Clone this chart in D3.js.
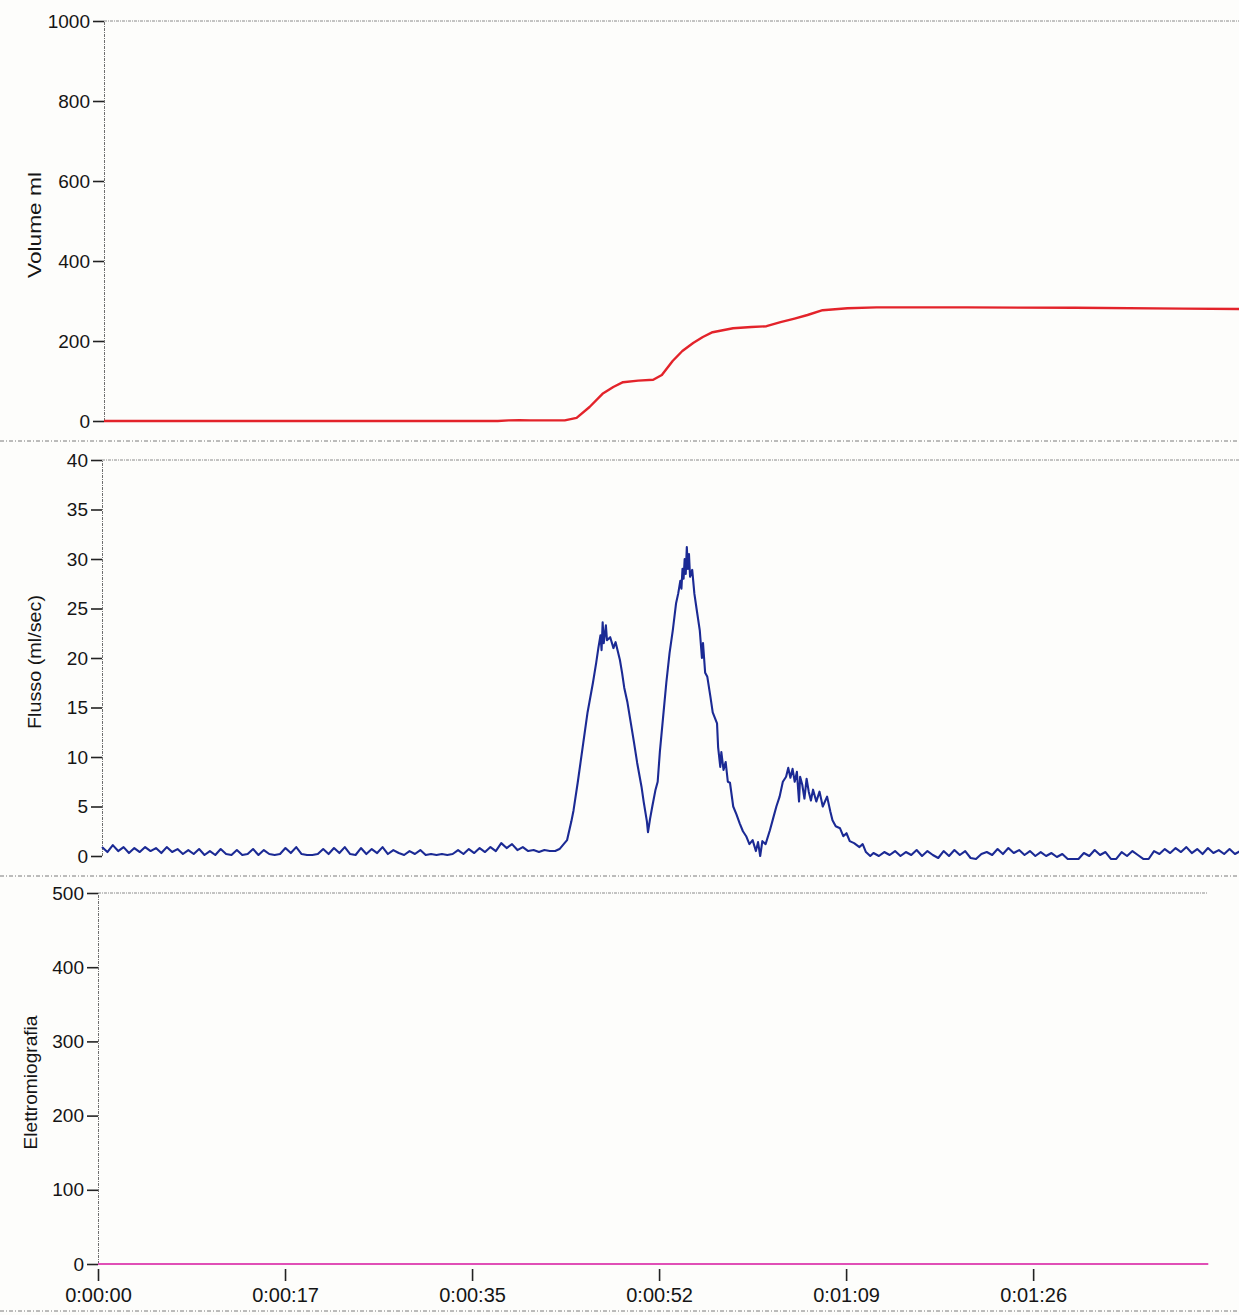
<!DOCTYPE html>
<html>
<head>
<meta charset="utf-8">
<script src="https://cdn.jsdelivr.net/npm/d3@7"></script>
<style>
  html, body { margin: 0; padding: 0; background: #fdfdfb; }
  svg { display: block; font-family: "Liberation Sans", Arial, sans-serif; }
</style>
</head>
<body>
<script>
// ---- data (seconds, value) ----

const volumePoints = [
  [0, 0], [10, 0], [20, 0], [30, 0], [36.5, 0], [37.5, 1.5], [38.5, 2], [39.5, 1.5],
  [41, 1.5], [42.7, 1.5], [43.8, 8], [45, 35], [46.2, 68], [47.2, 85], [48.1, 97],
  [49.5, 101], [50.9, 103], [51.7, 115], [52.7, 150], [53.6, 175], [54.6, 195],
  [55.5, 210], [56.4, 222], [58.3, 232], [60, 235], [61.4, 237], [62.7, 247],
  [64, 256], [65.2, 265], [66.6, 277], [68.9, 282], [71.6, 284], [80, 284],
  [90, 283], [100, 281], [105.5, 280]
]

const flowPoints = [
  [0, 0.9], [0.5, 0.4], [1, 1.1], [1.5, 0.5], [2, 0.9], [2.5, 0.3], [3, 0.8], [3.5, 0.4],
  [4, 0.9], [4.5, 0.5], [5, 0.8], [5.5, 0.3], [6, 0.9], [6.5, 0.4], [7, 0.7], [7.5, 0.2],
  [8, 0.6], [8.5, 0.2], [9, 0.7], [9.5, 0.1], [10, 0.5], [10.5, 0.1], [11, 0.7], [11.5, 0.2],
  [12, 0.1], [12.5, 0.6], [13, 0.1], [13.5, 0.2], [14, 0.7], [14.5, 0.1], [15, 0.6], [15.5, 0.2],
  [16, 0.1], [16.5, 0.2], [17, 0.8], [17.5, 0.3], [18, 0.9], [18.5, 0.2], [19, 0.1], [19.5, 0.1],
  [20, 0.2], [20.5, 0.7], [21, 0.2], [21.5, 0.8], [22, 0.3], [22.5, 0.9], [23, 0.2], [23.5, 0.1],
  [24, 0.8], [24.5, 0.2], [25, 0.7], [25.5, 0.3], [26, 0.9], [26.5, 0.2], [27, 0.6], [27.5, 0.3],
  [28, 0.1], [28.5, 0.5], [29, 0.2], [29.5, 0.6], [30, 0.1], [30.5, 0.2], [31, 0.1], [31.5, 0.2],
  [32, 0.1], [32.5, 0.2], [33, 0.6], [33.5, 0.2], [34, 0.7], [34.5, 0.3], [35, 0.8], [35.5, 0.4],
  [36, 0.9], [36.5, 0.5], [37, 1.3], [37.5, 0.8], [38, 1.2], [38.5, 0.6], [39, 0.9], [39.5, 0.5],
  [40, 0.6], [40.5, 0.4], [41, 0.6], [41.5, 0.5], [42, 0.5], [42.4, 0.7],
  [43.1, 1.6], [43.5, 3.5], [43.7, 4.6], [44.1, 7.5], [44.6, 11.4], [45, 14.5], [45.5, 17.5],
  [45.8, 19.5], [46, 21], [46.2, 22.3], [46.3, 20.8], [46.4, 23.6], [46.5, 21.5], [46.7, 23.3],
  [46.8, 21.8], [47.1, 22.1], [47.4, 21], [47.6, 21.6], [48, 19.8], [48.2, 18.5], [48.4, 17],
  [48.7, 15.5], [49, 13.5], [49.3, 11.5], [49.6, 9.4], [50, 7], [50.2, 5.5], [50.5, 3.5],
  [50.6, 2.4], [50.8, 3.8], [51, 5], [51.3, 6.7], [51.5, 7.5], [51.7, 10.5], [52, 14],
  [52.3, 17.5], [52.6, 20.5], [52.9, 22.8], [53.2, 25.5], [53.4, 26.5], [53.6, 27.8], [53.7, 27],
  [53.8, 29], [53.9, 28], [54, 30], [54.1, 28.5], [54.2, 31.2], [54.3, 29], [54.4, 30.5],
  [54.5, 28.2], [54.7, 28.9], [54.9, 26.5], [55.1, 25], [55.4, 22.8], [55.6, 20], [55.7, 21.5],
  [55.9, 18.5], [56.1, 18.1], [56.4, 16], [56.6, 14.5], [57, 13.4], [57.1, 11], [57.3, 9],
  [57.4, 10.5], [57.6, 8.7], [57.8, 9.5], [58, 7.5], [58.2, 7.4], [58.5, 5], [58.8, 4.2],
  [59.1, 3.3], [59.4, 2.5], [59.7, 2], [60, 1.2], [60.3, 1.6], [60.6, 0.5], [60.8, 1.4],
  [61, 0], [61.2, 1.5], [61.5, 1.2], [61.9, 2.6], [62.2, 3.8], [62.5, 5], [62.8, 6],
  [63.1, 7.5], [63.4, 8], [63.6, 8.9], [63.8, 7.9], [64, 8.8], [64.2, 7.5], [64.4, 8.5],
  [64.6, 5.5], [64.7, 8], [64.9, 7.2], [65.1, 5.8], [65.3, 7.8], [65.5, 6.5], [65.7, 5.6],
  [65.9, 6.7], [66.2, 5.5], [66.5, 6.5], [66.8, 5], [67.2, 6], [67.5, 4.5], [67.7, 3.6],
  [68, 3], [68.4, 2.8], [68.7, 2], [69, 2.3], [69.3, 1.5], [69.7, 1.3], [70.2, 0.9],
  [70.5, 1.2], [70.8, 0.4], [71.2, 0],
  [71.5, 0.3], [72, 0], [72.5, 0.4], [73, 0.1], [73.5, 0.5], [74, 0], [74.5, 0.4], [75, 0.1],
  [75.5, 0.6], [76, 0], [76.5, 0.5], [77, 0.1], [77.5, -0.2], [78, 0.5], [78.5, 0], [79, 0.6],
  [79.5, 0.1], [80, 0.5], [80.5, -0.2], [81, -0.3], [81.5, 0.2], [82, 0.4], [82.5, 0.1], [83, 0.7],
  [83.5, 0.2], [84, 0.8], [84.5, 0.3], [85, 0.6], [85.5, 0.1], [86, 0.5], [86.5, 0], [87, 0.4],
  [87.5, 0], [88, 0.3], [88.5, -0.1], [89, 0.2], [89.5, -0.3], [90, -0.3], [90.5, -0.3], [91, 0.3],
  [91.5, 0], [92, 0.6], [92.5, 0.1], [93, 0.4], [93.5, -0.3], [94, -0.3], [94.5, 0.4], [95, 0],
  [95.5, 0.5], [96, 0.1], [96.5, -0.3], [97, -0.3], [97.5, 0.5], [98, 0.2], [98.5, 0.7], [99, 0.3],
  [99.5, 0.8], [100, 0.4], [100.5, 0.9], [101, 0.3], [101.5, 0.7], [102, 0.2], [102.5, 0.8],
  [103, 0.3], [103.5, 0.6], [104, 0.2], [104.5, 0.7], [105, 0.2], [105.5, 0.5]
]

const emgPoints = [
  [0, 0], [20, 0], [40, 0], [60, 0], [80, 0], [102.9, 0]
]

const volumeTicks = [0, 200, 400, 600, 800, 1000]
const flowTicks = [0, 5, 10, 15, 20, 25, 30, 35, 40]
const emgTicks = [0, 100, 200, 300, 400, 500]

const timeTicks = [0, 17.333, 34.667, 52, 69.333, 86.667]
const timeLabels = ['0:00:00', '0:00:17', '0:00:35', '0:00:52', '0:01:09', '0:01:26']

// ---- layout ----

const WIDTH = 1239
const HEIGHT = 1315
const PX_PER_SEC = 10.79
const T_MAX = 102.9

const PANELS = [
  {
    title: 'Volume ml', titleLen: 106, data: volumePoints, ticks: volumeTicks, domain: [0, 1000],
    x0: 104, top: 21, bottom: 421, right: 1260, titleX: 41, color: '#e3232a', width: 2.4
  },
  {
    title: 'Flusso (ml/sec)', titleLen: 134, data: flowPoints, ticks: flowTicks, domain: [0, 40],
    x0: 102, top: 460, bottom: 856, right: 1260, titleX: 41, color: '#1b2a94', width: 2.1
  },
  {
    title: 'Elettromiografia', titleLen: 134, data: emgPoints, ticks: emgTicks, domain: [0, 500],
    x0: 98, top: 893, bottom: 1264, right: 1207, titleX: 37, color: '#e04fb6', width: 1.9
  }
]

const SEPARATORS = [441, 876, 1311]

const svg = d3.select('body').append('svg')
  .attr('width', WIDTH)
  .attr('height', HEIGHT)

svg.append('rect')
  .attr('width', '100%')
  .attr('height', '100%')
  .attr('fill', '#fdfdfb')

svg.selectAll('line.sep')
  .data(SEPARATORS)
  .enter().append('line')
    .attr('class', 'sep')
    .attr('x1', 0).attr('x2', WIDTH)
    .attr('y1', d => d).attr('y2', d => d)
    .attr('stroke', '#7a7a7a')
    .attr('stroke-width', 1)
    .attr('stroke-dasharray', '4,2,1,2')

PANELS.forEach((p, i) => {
  const x = d3.scaleLinear()
    .domain([0, T_MAX])
    .range([p.x0, p.x0 + T_MAX * PX_PER_SEC])
  const y = d3.scaleLinear()
    .domain(p.domain)
    .range([p.bottom, p.top])

  // top border
  svg.append('line')
    .attr('x1', p.x0).attr('x2', p.right)
    .attr('y1', p.top).attr('y2', p.top)
    .attr('stroke', '#8a8a8a')
    .attr('stroke-width', 1)
    .attr('stroke-dasharray', '3,1,1,1')

  const axis = svg.append('g')
    .attr('transform', `translate(${p.x0},0)`)
    .call(d3.axisLeft(y).tickValues(p.ticks).tickSize(11).tickPadding(3).tickFormat(d3.format('d')))

  axis.select('.domain')
    .attr('stroke', '#6f6f6f')
    .attr('stroke-width', 1)
    .attr('stroke-dasharray', '3,1,1,1')
  axis.selectAll('.tick line')
    .attr('stroke', '#222')
    .attr('stroke-width', 1.6)
  axis.selectAll('.tick text')
    .attr('fill', '#151515')
    .style('font-size', '19px')
    .style('font-family', '"Liberation Sans", Arial, sans-serif')

  svg.append('text')
    .attr('transform', `translate(${p.titleX},${(p.top + p.bottom) / 2 + 4}) rotate(-90)`)
    .attr('text-anchor', 'middle')
    .attr('fill', '#151515')
    .attr('textLength', p.titleLen)
    .attr('lengthAdjust', 'spacingAndGlyphs')
    .style('font-size', '19px')
    .text(p.title)

  const line = d3.line()
    .x(d => x(d[0]))
    .y(d => y(d[1]))

  svg.append('path')
    .datum(p.data)
    .attr('d', line)
    .attr('fill', 'none')
    .attr('stroke', p.color)
    .attr('stroke-width', p.width)
    .attr('stroke-linejoin', 'round')

  // time axis only under the last panel
  if (i === PANELS.length - 1) {
    const xAxis = svg.append('g')
      .attr('transform', `translate(0,${p.bottom + 5})`)
      .call(d3.axisBottom(x).tickValues(timeTicks).tickSize(12).tickPadding(7)
        .tickFormat((d, k) => timeLabels[k]))
    xAxis.select('.domain').remove()
    xAxis.selectAll('.tick line')
      .attr('stroke', '#222')
      .attr('stroke-width', 1.6)
    xAxis.selectAll('.tick text')
      .attr('fill', '#151515')
      .style('font-size', '20px')
      .style('font-family', '"Liberation Sans", Arial, sans-serif')
  }
})
</script>
</body>
</html>
